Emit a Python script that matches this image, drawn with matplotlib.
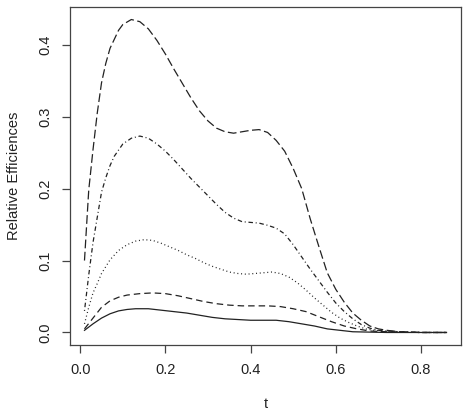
import matplotlib
matplotlib.use('Agg')
import matplotlib.pyplot as plt

plt.rcParams['font.family'] = ['Liberation Sans', 'DejaVu Sans']

# series (t, relative efficiency)
t_solid = [0.01, 0.03, 0.05, 0.07, 0.09, 0.11, 0.13, 0.16, 0.19, 0.22, 0.25, 0.28, 0.31, 0.34,
           0.37, 0.40, 0.43, 0.46, 0.49, 0.52, 0.55, 0.58, 0.61, 0.64, 0.68, 0.72, 0.80, 0.86]
y_solid = [0.003, 0.012, 0.020, 0.026, 0.030, 0.032, 0.033, 0.033, 0.031, 0.029, 0.027, 0.024, 0.021, 0.019,
           0.018, 0.017, 0.017, 0.017, 0.015, 0.012, 0.009, 0.005, 0.003, 0.001, 0.0005, 0.0, 0.0, 0.0]

t_dash = [0.01, 0.03, 0.05, 0.07, 0.09, 0.11, 0.14, 0.17, 0.20, 0.23, 0.26, 0.29, 0.32, 0.35,
          0.38, 0.41, 0.44, 0.47, 0.50, 0.53, 0.56, 0.59, 0.62, 0.65, 0.68, 0.72, 0.80, 0.86]
y_dash = [0.005, 0.020, 0.035, 0.044, 0.049, 0.052, 0.054, 0.055, 0.054, 0.051, 0.047, 0.043, 0.040, 0.038,
          0.037, 0.037, 0.037, 0.036, 0.033, 0.029, 0.022, 0.015, 0.009, 0.005, 0.002, 0.001, 0.0, 0.0]

t_dot = [0.01, 0.02, 0.03, 0.04, 0.05, 0.07, 0.09, 0.11, 0.13, 0.15, 0.17, 0.19, 0.21, 0.23, 0.25,
         0.27, 0.29, 0.31, 0.33, 0.35, 0.37, 0.39, 0.41, 0.43, 0.45, 0.47, 0.49, 0.51, 0.53, 0.55,
         0.57, 0.59, 0.61, 0.63, 0.65, 0.67, 0.69, 0.72, 0.75, 0.80, 0.86]
y_dot = [0.012, 0.035, 0.055, 0.068, 0.082, 0.101, 0.114, 0.122, 0.127, 0.129, 0.128, 0.124, 0.119, 0.114, 0.108,
         0.103, 0.097, 0.092, 0.088, 0.084, 0.082, 0.081, 0.082, 0.083, 0.084, 0.082, 0.077, 0.069, 0.059, 0.048,
         0.038, 0.028, 0.020, 0.014, 0.009, 0.005, 0.003, 0.001, 0.0005, 0.0, 0.0]

t_dotdash = [0.01, 0.02, 0.03, 0.04, 0.05, 0.06, 0.07, 0.08, 0.10, 0.12, 0.14, 0.16, 0.18, 0.20,
             0.22, 0.24, 0.26, 0.28, 0.30, 0.32, 0.34, 0.36, 0.38, 0.40, 0.42, 0.44, 0.46, 0.48,
             0.50, 0.52, 0.54, 0.56, 0.58, 0.60, 0.62, 0.64, 0.66, 0.68, 0.70, 0.72, 0.75, 0.80, 0.86]
y_dotdash = [0.030, 0.080, 0.125, 0.160, 0.195, 0.215, 0.232, 0.245, 0.262, 0.270, 0.273, 0.270, 0.262, 0.252,
             0.240, 0.227, 0.214, 0.202, 0.190, 0.178, 0.167, 0.159, 0.154, 0.153, 0.152, 0.149, 0.145, 0.137,
             0.122, 0.105, 0.088, 0.072, 0.056, 0.041, 0.029, 0.019, 0.011, 0.006, 0.003, 0.002, 0.001, 0.0, 0.0]

t_longdash = [0.01, 0.02, 0.03, 0.04, 0.05, 0.06, 0.07, 0.09, 0.10, 0.12, 0.14, 0.16, 0.18, 0.20,
              0.22, 0.24, 0.26, 0.28, 0.30, 0.32, 0.34, 0.36, 0.38, 0.40, 0.42, 0.44, 0.46, 0.48,
              0.50, 0.52, 0.54, 0.56, 0.58, 0.60, 0.62, 0.64, 0.66, 0.68, 0.70, 0.72, 0.75, 0.80, 0.86]
y_longdash = [0.100, 0.198, 0.254, 0.305, 0.347, 0.374, 0.395, 0.420, 0.428, 0.435, 0.432, 0.422, 0.406, 0.387,
              0.366, 0.346, 0.326, 0.308, 0.294, 0.284, 0.279, 0.277, 0.279, 0.281, 0.282, 0.278, 0.267, 0.252,
              0.228, 0.200, 0.158, 0.120, 0.083, 0.060, 0.042, 0.027, 0.017, 0.009, 0.005, 0.003, 0.001, 0.0, 0.0]

series = [
    (t_solid, y_solid, None),
    (t_dash, y_dash, (5.2, 3.2)),
    (t_dot, y_dot, (0.8, 2.2)),
    (t_dotdash, y_dotdash, (0.8, 2.2, 3.6, 2.2)),
    (t_longdash, y_longdash, (7.0, 2.8)),
]

x_ticks = [0.0, 0.2, 0.4, 0.6, 0.8]
y_ticks = [0.0, 0.1, 0.2, 0.3, 0.4]

fig = plt.figure(figsize=(4.63, 4.18), dpi=100)
ax = fig.add_axes([70 / 463, 1 - 345 / 418, 391 / 463, 338 / 418])

for t, y, dashes in series:
    line, = ax.plot(t, y, color='#222222', lw=0.9)
    if dashes is not None:
        line.set_dashes(dashes)

# R-style 4% padding
xmin, xmax = 0.01, 0.86
ymin, ymax = 0.0, 0.435
ax.set_xlim(xmin - 0.04 * (xmax - xmin), xmax + 0.04 * (xmax - xmin))
ax.set_ylim(ymin - 0.04 * (ymax - ymin), ymax + 0.04 * (ymax - ymin))

ax.set_xticks(x_ticks)
ax.set_xticklabels(['%.1f' % v for v in x_ticks])
ax.set_yticks(y_ticks)
ax.set_yticklabels(['%.1f' % v for v in y_ticks], rotation=90, va='center')

for s in ax.spines.values():
    s.set_color('#444444')
    s.set_linewidth(0.9)
ax.tick_params(length=6, width=0.9, color='#444444', labelsize=10.5, labelcolor='#222222')
ax.tick_params(axis='x', pad=7)
ax.tick_params(axis='y', pad=7)

ax.set_xlabel('t', fontsize=10.5, color='#222222', labelpad=14)
ax.set_ylabel('Relative Efficiences', fontsize=10.5, color='#222222', labelpad=12)

fig.savefig('out.png', dpi=100)
